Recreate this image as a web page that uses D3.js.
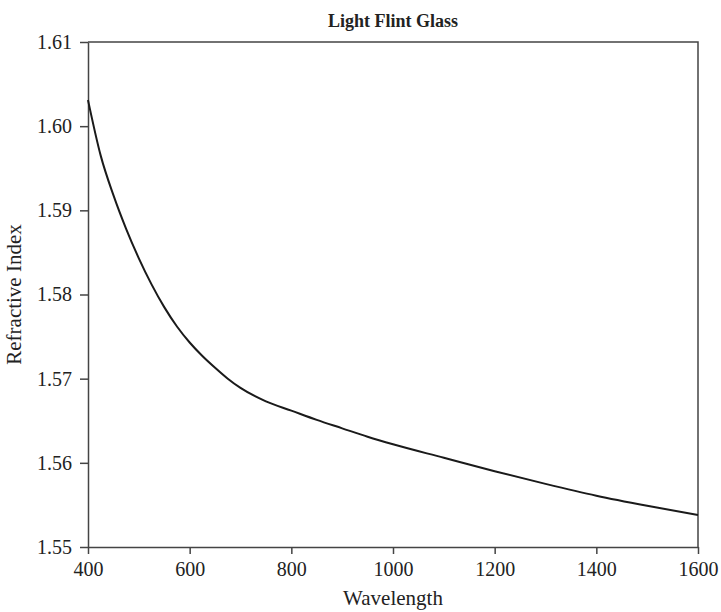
<!DOCTYPE html>
<html lang="en">
<head>
    <meta charset="UTF-8">
    <title>Light Flint Glass</title>
    <style>
        body {
            margin: 0;
            background: #fff;
            font-family: "Liberation Serif", "DejaVu Serif", serif;
        }
        .axis path, .axis line {
            stroke: #444;
            stroke-width: 1.5px;
        }
        .axis text {
            font-family: "Liberation Serif", serif;
            font-size: 20px;
            fill: #222;
        }
        .frame {
            fill: none;
            stroke: #444;
            stroke-width: 1.5px;
        }
        .curve {
            fill: none;
            stroke: #1a1a1a;
            stroke-width: 2px;
        }
    </style>
</head>
<body>
    <div id="chart"></div>
    <script src="https://d3js.org/d3.v7.min.js"></script>
    <script>
        // wavelength (nm) and refractive index
        const wavelengths = [400, 425, 450, 475, 500, 525, 550, 575, 600, 625, 650, 675, 700, 750, 800,
                             850, 900, 950, 1000, 1100, 1200, 1300, 1400, 1500, 1600];
        const indices = [1.6031, 1.5965, 1.5918, 1.5878, 1.5843, 1.5812, 1.5785, 1.5762, 1.5743,
                         1.5727, 1.5713, 1.5700, 1.5689, 1.5673, 1.5662, 1.5651, 1.5641, 1.5631,
                         1.5622, 1.5606, 1.5590, 1.5575, 1.5561, 1.5549, 1.5538];
        const xTicks = [400, 600, 800, 1000, 1200, 1400, 1600];
        const yTicks = [1.55, 1.56, 1.57, 1.58, 1.59, 1.60, 1.61];

        const width = 721, height = 612;
        const margin = { top: 42, right: 23, bottom: 65, left: 88 };
        const w = width - margin.left - margin.right;
        const h = height - margin.top - margin.bottom;

        const svg = d3.select("#chart").append("svg")
            .attr("width", width)
            .attr("height", height);

        const g = svg.append("g")
            .attr("transform", `translate(${margin.left},${margin.top})`);

        const x = d3.scaleLinear().domain([400, 1600]).range([0, w]);
        const y = d3.scaleLinear().domain([1.55, 1.61]).range([h, 0]);

        g.append("g")
            .attr("class", "axis")
            .attr("transform", `translate(0,${h})`)
            .call(d3.axisBottom(x).tickValues(xTicks).tickSize(7).tickSizeOuter(0).tickPadding(8).tickFormat(d3.format("d")));

        g.append("g")
            .attr("class", "axis")
            .call(d3.axisLeft(y).tickValues(yTicks).tickSize(8).tickSizeOuter(0).tickPadding(8).tickFormat(d3.format(".2f")));

        // top and right border
        g.append("path")
            .attr("class", "frame")
            .attr("d", `M0,0H${w}V${h}`);

        const data = wavelengths.map((d, i) => ({ x: d, y: indices[i] }));

        g.append("path")
            .datum(data)
            .attr("class", "curve")
            .attr("d", d3.line()
                .x(d => x(d.x))
                .y(d => y(d.y))
                .curve(d3.curveMonotoneX));

        svg.append("text")
            .attr("x", margin.left + w / 2)
            .attr("y", 27)
            .attr("text-anchor", "middle")
            .style("font-size", "18px")
            .style("font-weight", "bold")
            .style("fill", "#222")
            .text("Light Flint Glass");

        svg.append("text")
            .attr("x", margin.left + w / 2)
            .attr("y", 605)
            .attr("text-anchor", "middle")
            .style("font-size", "21px")
            .style("fill", "#222")
            .text("Wavelength");

        svg.append("text")
            .attr("transform", `translate(21,${margin.top + h / 2}) rotate(-90)`)
            .attr("text-anchor", "middle")
            .style("font-size", "21px")
            .style("fill", "#222")
            .text("Refractive Index");
    </script>
</body>
</html>
